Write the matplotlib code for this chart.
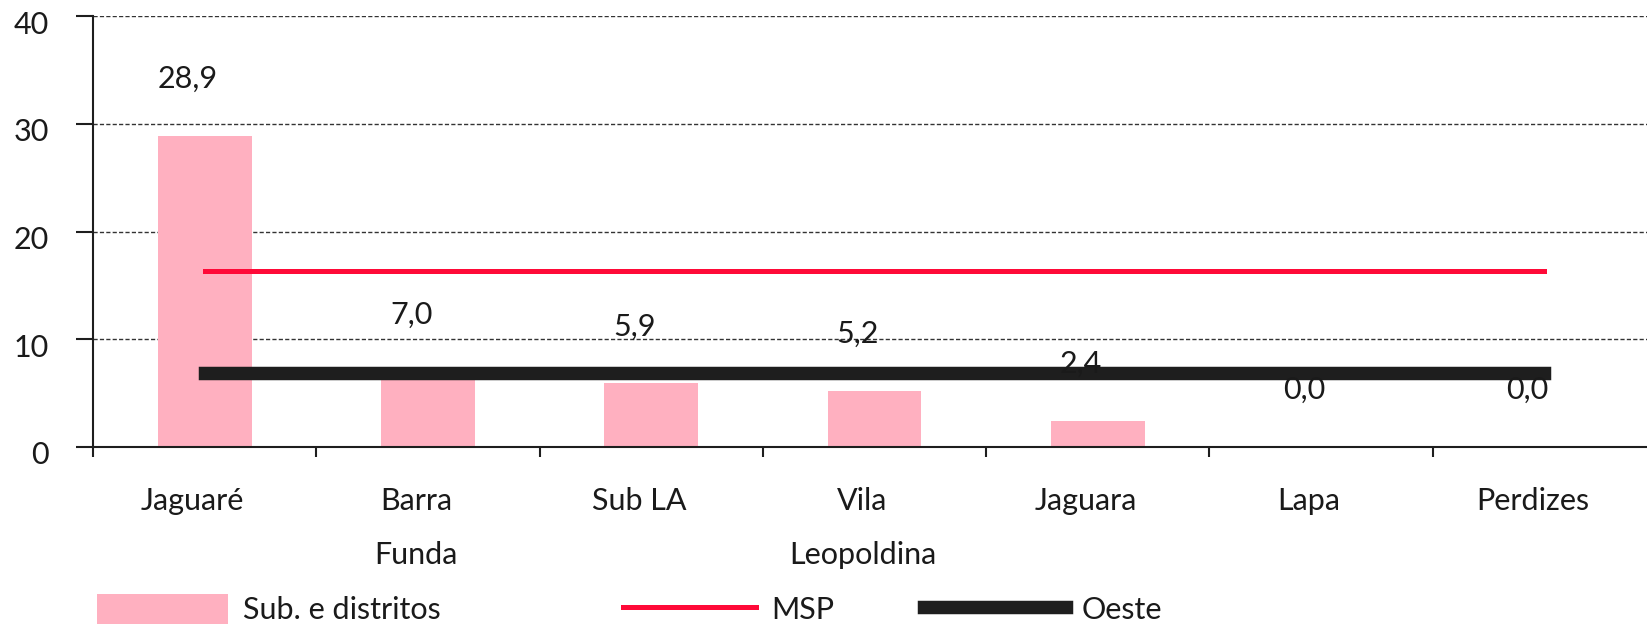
import matplotlib
matplotlib.use("Agg")
import matplotlib.pyplot as plt
import matplotlib.transforms as mtransforms
from matplotlib.patches import Patch
from matplotlib.lines import Line2D
import numpy as np

categories = ["Jaguaré", "Barra\nFunda", "Sub LA", "Vila\nLeopoldina", "Jaguara", "Lapa", "Perdizes"]
values = [28.9, 7.0, 5.9, 5.2, 2.4, 0.0, 0.0]
msp = [16.3] * 7
oeste = [6.9] * 7
yticks = [0, 10, 20, 30, 40]
legend_labels = ["Sub. e distritos", "MSP", "Oeste"]

PINK = "#FFB0C0"
RED = "#FF0A38"
BLACK = "#1E1E1E"
TXT = "#1A1A1A"

plt.rcParams['font.family'] = ['Lato', 'DejaVu Sans']
FS = 22

W, H = 1647, 626
fig = plt.figure(figsize=(W / 100, H / 100), dpi=100)
ax = fig.add_axes([93 / W, 1 - 447 / H, (1656 - 93) / W, (447 - 16) / H])

x = np.arange(len(categories))
ax.bar(x, values, width=0.42, color=PINK, zorder=2)
ax.plot(x, msp, color=RED, lw=3.6, solid_capstyle='projecting', zorder=3)
ax.plot(x, oeste, color=BLACK, lw=9.7, solid_capstyle='projecting', zorder=3)

for i, v in enumerate(values):
    ax.annotate(f"{v:.1f}".replace('.', ','), xy=(i, v), xytext=(-12, 41),
                textcoords='offset points', ha='center', va='center',
                fontsize=FS, color=TXT, zorder=5)

ax.set_xlim(-0.5, 6.5)
ax.set_ylim(0, 40)
ax.set_yticks(yticks)
ax.set_yticklabels([str(t) for t in yticks])
ax.set_xticks(x)
ax.set_xticklabels(categories, linespacing=2.1)
ax.set_xticks(np.arange(-0.5, 6.0, 1.0), minor=True)

ax.tick_params(axis='y', which='major', length=12, width=1.5, pad=20,
               labelsize=FS, labelcolor=TXT, color=BLACK)
ax.tick_params(axis='x', which='major', length=0, pad=29, labelsize=FS, labelcolor=TXT)
ax.tick_params(axis='x', which='minor', length=7, width=1.5, color=BLACK)

for s in ['top', 'right']:
    ax.spines[s].set_visible(False)
for s in ['left', 'bottom']:
    ax.spines[s].set_linewidth(1.5)
    ax.spines[s].set_color(BLACK)

ax.yaxis.grid(True, linestyle=(0, (3, 1.6)), color='#333333', linewidth=1.0, zorder=0)
ax.set_axisbelow(True)

yoff = mtransforms.ScaledTranslation(0, -6 / 100, fig.dpi_scale_trans)
for lbl in ax.get_yticklabels():
    lbl.set_transform(lbl.get_transform() + yoff)
xoff = mtransforms.ScaledTranslation(-12 / 100, 0, fig.dpi_scale_trans)
for lbl in ax.get_xticklabels():
    lbl.set_transform(lbl.get_transform() + xoff)

fs_px = FS * 100 / 72
handles = [Patch(facecolor=PINK, edgecolor='none'),
           Line2D([], [], color=RED, lw=3.6),
           Line2D([], [], color=BLACK, lw=9.7)]
xs = [97, 623, 924]
hl = [131, 133, 142]
for h, lab, xx, L in zip(handles, legend_labels, xs, hl):
    fig.legend([h], [lab], loc='center left', bbox_to_anchor=(xx / W, 1 - 609 / H),
               frameon=False, fontsize=FS, borderpad=0, borderaxespad=0,
               handlelength=L / fs_px, handleheight=34 / fs_px,
               handletextpad=0.5, labelcolor=TXT)

fig.savefig("out.png", dpi=100)
